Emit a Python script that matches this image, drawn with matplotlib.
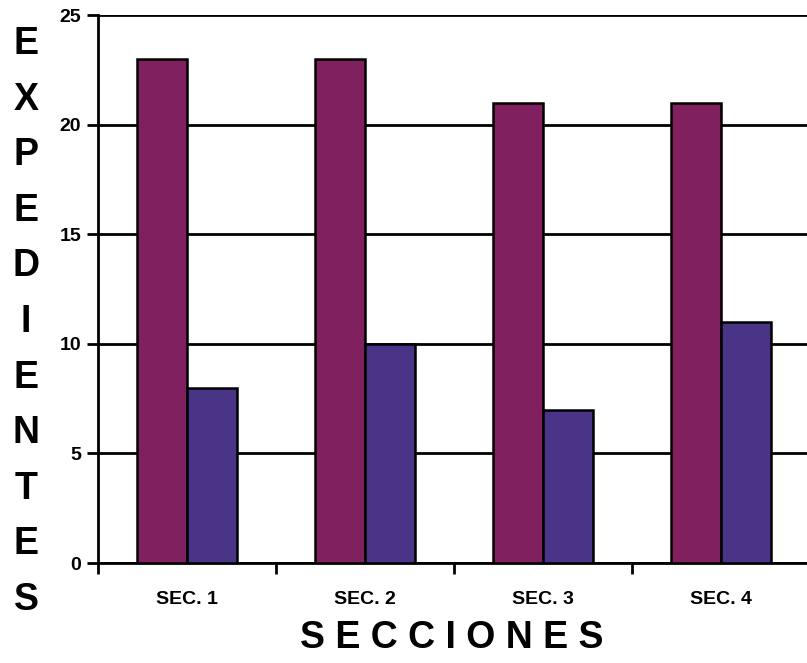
import numpy as np
import matplotlib.pyplot as plt

plt.rcParams['font.family'] = ['Liberation Sans', 'DejaVu Sans']
plt.rcParams['font.weight'] = 'bold'

# data
secciones = ['SEC. 1', 'SEC. 2', 'SEC. 3', 'SEC. 4']
serie_a = [23, 23, 21, 21]
serie_b = [8, 10, 7, 11]
ylabel_txt = 'EXPEDIENTES'
xlabel_txt = 'S E C C I O N E S'

fig = plt.figure(figsize=(8.07, 6.63), dpi=100)
W, H = 807, 663
ax = fig.add_axes([98 / W, (H - 563) / H, (810 - 98) / W, (563 - 15) / H])

x = np.arange(len(secciones))
bw = 0.282
ax.bar(x - bw / 2, serie_a, bw, color='#80205F', edgecolor='black', linewidth=1.8, zorder=3)
ax.bar(x + bw / 2, serie_b, bw, color='#4A3488', edgecolor='black', linewidth=1.8, zorder=3)

ax.set_xlim(-0.5, len(secciones) - 0.5)
ax.set_ylim(0, 25)
ax.set_yticks(range(0, 26, 5))
ax.yaxis.grid(True, color='black', linewidth=2, zorder=0)

# category labels centred, ticks between categories
ax.set_xticks(x)
ax.set_xticklabels(secciones, fontsize=14, fontweight='bold')
ax.tick_params(axis='x', length=0, pad=20)
ax.set_xticks(np.arange(-0.5, len(secciones), 1), minor=True)
ax.tick_params(axis='x', which='minor', length=8, width=2, direction='out')
ax.tick_params(axis='y', length=8, width=2, labelsize=14, pad=4)
for lab in ax.get_yticklabels():
    lab.set_fontweight('bold')

for s in ['top', 'right']:
    ax.spines[s].set_visible(False)
ax.spines['left'].set_linewidth(2)
ax.spines['bottom'].set_linewidth(2)

# stacked vertical label
ys = np.linspace(44, 600, len(ylabel_txt))
for ch, yy in zip(ylabel_txt, ys):
    fig.text(26 / W, 1 - yy / H, ch, fontsize=27, fontweight='bold', ha='center', va='center')

fig.text(452 / W, 1 - 638 / H, xlabel_txt, fontsize=27, fontweight='bold', ha='center', va='center')

fig.savefig('out.png', dpi=100)
